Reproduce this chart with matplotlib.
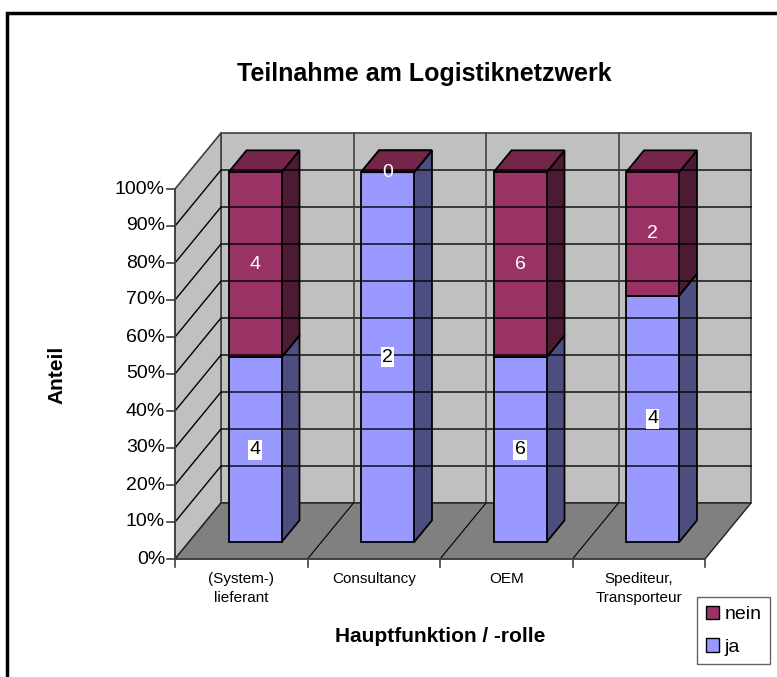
import matplotlib
matplotlib.use('Agg')
import matplotlib.pyplot as plt
from matplotlib.patches import Polygon, Patch

plt.rcParams['font.family'] = ['Liberation Sans', 'DejaVu Sans']

categories = ['(System-)\nlieferant', 'Consultancy', 'OEM', 'Spediteur,\nTransporteur']
ja = [4, 2, 6, 4]
nein = [4, 0, 6, 2]
yticks = [0, 10, 20, 30, 40, 50, 60, 70, 80, 90, 100]

# colours: front, top, side
col_ja = ('#9999FF', '#7A7ACC', '#4D4D80')
col_nein = ('#993366', '#732649', '#4D1A33')

# pseudo 3d projection (pixel space)
X0, Y0 = 175, 559
CAT_W = 132.5
DX, DY = 46, 56
V_H = 3.7


def proj(x, v, z):
    return (X0 + x * CAT_W + z * DX, Y0 - v * V_H - z * DY)


fig = plt.figure(figsize=(7.77, 6.77), dpi=100)
ax = fig.add_axes([0, 0, 1, 1])
ax.set_xlim(0, 777)
ax.set_ylim(677, 0)
ax.axis('off')

n = len(categories)

# walls and floor
back = [proj(0, 0, 1), proj(n, 0, 1), proj(n, 100, 1), proj(0, 100, 1)]
left = [proj(0, 0, 0), proj(0, 0, 1), proj(0, 100, 1), proj(0, 100, 0)]
floor = [proj(0, 0, 0), proj(n, 0, 0), proj(n, 0, 1), proj(0, 0, 1)]
ax.add_patch(Polygon(back, closed=True, fc='#C0C0C0', ec='#404040', lw=1.2))
ax.add_patch(Polygon(left, closed=True, fc='#C0C0C0', ec='#404040', lw=1.2))
ax.add_patch(Polygon(floor, closed=True, fc='#808080', ec='#202020', lw=1.0))

for t in yticks[1:-1]:
    a, b, c = proj(0, t, 0), proj(0, t, 1), proj(n, t, 1)
    ax.plot([a[0], b[0], c[0]], [a[1], b[1], c[1]], color='black', lw=1.0)
for i in range(1, n):
    a, b = proj(i, 0, 1), proj(i, 100, 1)
    ax.plot([a[0], b[0]], [a[1], b[1]], color='#404040', lw=1.2)
    a, b = proj(i, 0, 0), proj(i, 0, 1)
    ax.plot([a[0], b[0]], [a[1], b[1]], color='black', lw=0.8)

# axes
a, b = proj(0, 0, 0), proj(0, 100, 0)
ax.plot([a[0], b[0]], [a[1], b[1]], color='#404040', lw=1.2)
for t in yticks:
    px, py = proj(0, t, 0)
    ax.plot([px - 8, px], [py, py], color='#404040', lw=1.2)
    ax.text(px - 10, py, '%d%%' % t, ha='right', va='center', fontsize=14)
a, b = proj(0, 0, 0), proj(n, 0, 0)
ax.plot([a[0], b[0]], [a[1], b[1]], color='#404040', lw=1.2)
for i in range(n + 1):
    px, py = proj(i, 0, 0)
    ax.plot([px, px], [py, py + 8], color='#404040', lw=1.2)
for i, lab in enumerate(categories):
    px, py = proj(i + 0.5, 0, 0)
    ax.text(px, py + 13, lab, ha='center', va='top', fontsize=11, linespacing=1.45)

# bars
hw, z0, z1 = 0.2, 0.3, 0.69
for i in range(n):
    tot = ja[i] + nein[i]
    p_ja = ja[i] / tot * 100
    segs = [(0, p_ja, col_ja, ja[i], 'ja'), (p_ja, 100, col_nein, nein[i], 'nein')]
    xa, xb = i + 0.5 - hw, i + 0.5 + hw
    for lo, hi, col, val, kind in segs:
        front = [proj(xa, lo, z0), proj(xb, lo, z0), proj(xb, hi, z0), proj(xa, hi, z0)]
        side = [proj(xb, lo, z0), proj(xb, lo, z1), proj(xb, hi, z1), proj(xb, hi, z0)]
        top = [proj(xa, hi, z0), proj(xb, hi, z0), proj(xb, hi, z1), proj(xa, hi, z1)]
        ax.add_patch(Polygon(side, closed=True, fc=col[2], ec='black', lw=1.3))
        ax.add_patch(Polygon(top, closed=True, fc=col[1], ec='black', lw=1.3))
        ax.add_patch(Polygon(front, closed=True, fc=col[0], ec='black', lw=1.3))
    for lo, hi, col, val, kind in segs:
        px, py = proj(i + 0.5, (lo + hi) / 2, z0)
        if kind == 'nein':
            ax.text(px, py, str(val), ha='center', va='center', fontsize=14, color='white')
        else:
            ax.text(px, py, str(val), ha='center', va='center', fontsize=14, color='black',
                    bbox=dict(fc='white', ec='none', pad=1.0))

# titles
ax.text(424, 74, 'Teilnahme am Logistiknetzwerk', ha='center', va='center',
        fontsize=18, fontweight='bold')
ax.text(57, 375, 'Anteil', ha='center', va='center', rotation=90,
        fontsize=15, fontweight='bold')
ax.text(440, 636, 'Hauptfunktion / -rolle', ha='center', va='center',
        fontsize=15, fontweight='bold')

# outer frame (only left/top edges visible)
ax.plot([7, 7, 777], [677, 13, 13], color='black', lw=2.5, solid_joinstyle='miter')

handles = [Patch(fc=col_nein[0], ec='black', label='nein'),
           Patch(fc=col_ja[0], ec='black', label='ja')]
leg = fig.legend(handles=handles, loc='upper left',
                 bbox_to_anchor=(697 / 777, 1 - 597 / 677), borderaxespad=0,
                 fontsize=14, frameon=True, fancybox=False, handlelength=0.7,
                 handleheight=0.7, handletextpad=0.25, borderpad=0.45, labelspacing=0.75)
leg.get_frame().set_edgecolor('#404040')
leg.get_frame().set_linewidth(1.0)

fig.savefig('out.png', dpi=100)
